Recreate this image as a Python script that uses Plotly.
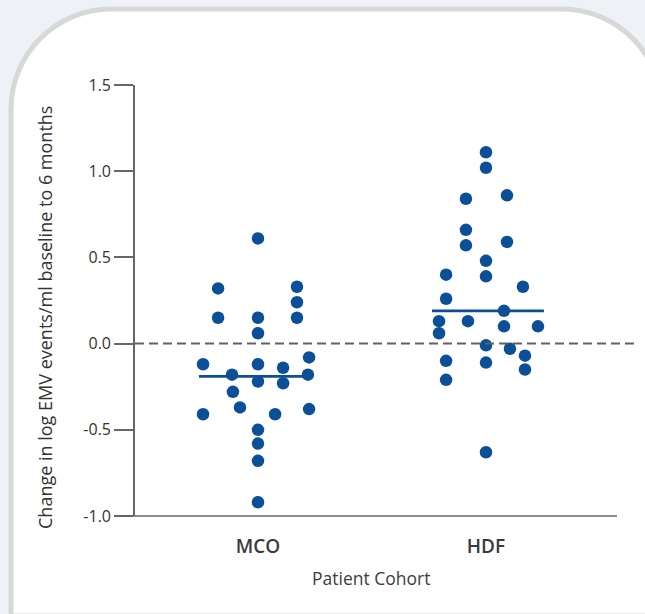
import plotly.graph_objects as go

# Patient cohorts and change in log EMV events/ml (baseline to 6 months)
categories = ["MCO", "HDF"]

mco_values = [0.61, 0.32, 0.33, 0.24, 0.15, 0.15, 0.15, 0.06, -0.08, -0.12,
              -0.12, -0.14, -0.18, -0.18, -0.22, -0.23, -0.28, -0.37, -0.41, -0.41,
              -0.38, -0.50, -0.58, -0.68, -0.92]
# horizontal spread of each MCO dot within its column (category units)
mco_spread = [0.0, -0.175, 0.171, 0.171, 0.171, -0.175, 0.0, 0.0, 0.224, -0.241,
              0.0, 0.110, -0.114, 0.219, 0.0, 0.110, -0.110, -0.079, -0.241, 0.075,
              0.224, 0.0, 0.0, 0.0, 0.0]

hdf_values = [1.11, 1.02, 0.84, 0.86, 0.66, 0.57, 0.59, 0.48, 0.40, 0.39,
              0.33, 0.26, 0.19, 0.13, 0.13, 0.10, 0.10, 0.06, -0.01, -0.03,
              -0.07, -0.10, -0.11, -0.15, -0.21, -0.63]
hdf_spread = [0.0, 0.0, -0.088, 0.092, -0.088, -0.088, 0.092, 0.0, -0.175, 0.0,
              0.162, -0.175, 0.079, -0.206, -0.079, 0.079, 0.228, -0.206, 0.0, 0.105,
              0.171, -0.175, 0.0, 0.171, -0.175, 0.0]

medians = [-0.19, 0.19]
median_half_width = [(-0.259, 0.219), (-0.237, 0.254)]

y_ticks = [-1.0, -0.5, 0.0, 0.5, 1.0, 1.5]
y_tick_text = ["-1.0", "-0.5", "0.0", "0.5", "1.0", "1.5"]

DOT = "#0b4f98"
FONT = "Open Sans"

# plot-area pixel box used for placing decorations
W, H = 645, 614
L, T, R, B = 135, 85, 636, 516


def px_x(px):
    return (px - L) / (R - L)


def px_y(py):
    return (B - py) / (B - T)


fig = go.Figure()

groups = [(mco_values, mco_spread), (hdf_values, hdf_spread)]
for i, (vals, spread) in enumerate(groups):
    fig.add_trace(go.Scatter(
        x=[i + s for s in spread], y=vals, mode="markers",
        marker=dict(size=12.5, color=DOT, line=dict(width=0)),
        name=categories[i], showlegend=False, hoverinfo="y"))
    lo, hi = median_half_width[i]
    fig.add_trace(go.Scatter(
        x=[i + lo, i + hi], y=[medians[i], medians[i]], mode="lines",
        line=dict(color=DOT, width=2.8), showlegend=False, hoverinfo="skip"))

# rounded card behind the chart (top corners rounded)
fl, ft, fr, fb, rad = 11, 9, 662, 616, 100
card = (f"M {px_x(fl)},{px_y(fb)} L {px_x(fl)},{px_y(ft + rad)} "
        f"C {px_x(fl)},{px_y(ft + rad * 0.45)} {px_x(fl + rad * 0.45)},{px_y(ft)} {px_x(fl + rad)},{px_y(ft)} "
        f"L {px_x(fr - rad)},{px_y(ft)} "
        f"C {px_x(fr - rad * 0.45)},{px_y(ft)} {px_x(fr)},{px_y(ft + rad * 0.45)} {px_x(fr)},{px_y(ft + rad)} "
        f"L {px_x(fr)},{px_y(fb)} Z")

shapes = [
    dict(type="path", path=card, xref="paper", yref="paper",
         fillcolor="white", line=dict(color="#d8d8d8", width=5), layer="below"),
    # x axis baseline
    dict(type="line", xref="paper", yref="paper", x0=px_x(117), x1=px_x(617), y0=0, y1=0,
         line=dict(color="#666666", width=1.6)),
    # zero reference
    dict(type="line", xref="paper", yref="y", x0=0, x1=1, y0=0, y1=0,
         line=dict(color="#626262", width=2, dash="9px,5px")),
]

fig.update_layout(
    width=W, height=H, autosize=False,
    margin=dict(l=L, r=W - R, t=T, b=H - B, pad=0),
    paper_bgcolor="#eef2f6", plot_bgcolor="white",
    font=dict(family=FONT, color="#333333"),
    shapes=shapes,
    showlegend=False,
    xaxis=dict(range=[(L - 258) / 228, (R - 258) / 228], tickvals=[0, 1], ticktext=categories,
               showgrid=False, zeroline=False, showline=False, ticks="",
               tickfont=dict(size=19, color="#3a3a3a", family=FONT, weight=600),
               ticklabelstandoff=17),
    yaxis=dict(range=[-1.0, 1.5], tickvals=y_ticks, ticktext=y_tick_text,
               showgrid=False, zeroline=False, showline=True, linecolor="#666666", linewidth=1.6,
               ticks="outside", ticklen=19, tickwidth=1.6, tickcolor="#666666",
               tickfont=dict(size=16, color="#333333", family=FONT)),
    annotations=[
        dict(text="Change in log EMV events/ml baseline to 6 months",
             xref="paper", yref="paper", x=px_x(45), y=px_y(318),
             xanchor="center", yanchor="middle", textangle=-90, showarrow=False,
             font=dict(size=18, color="#333333", family=FONT)),
        dict(text="Patient Cohort", xref="paper", yref="paper", x=px_x(371), y=px_y(578),
             xanchor="center", yanchor="middle", showarrow=False,
             font=dict(size=17.5, color="#3d3d3d", family=FONT)),
    ],
)

fig.write_html("out.html")
